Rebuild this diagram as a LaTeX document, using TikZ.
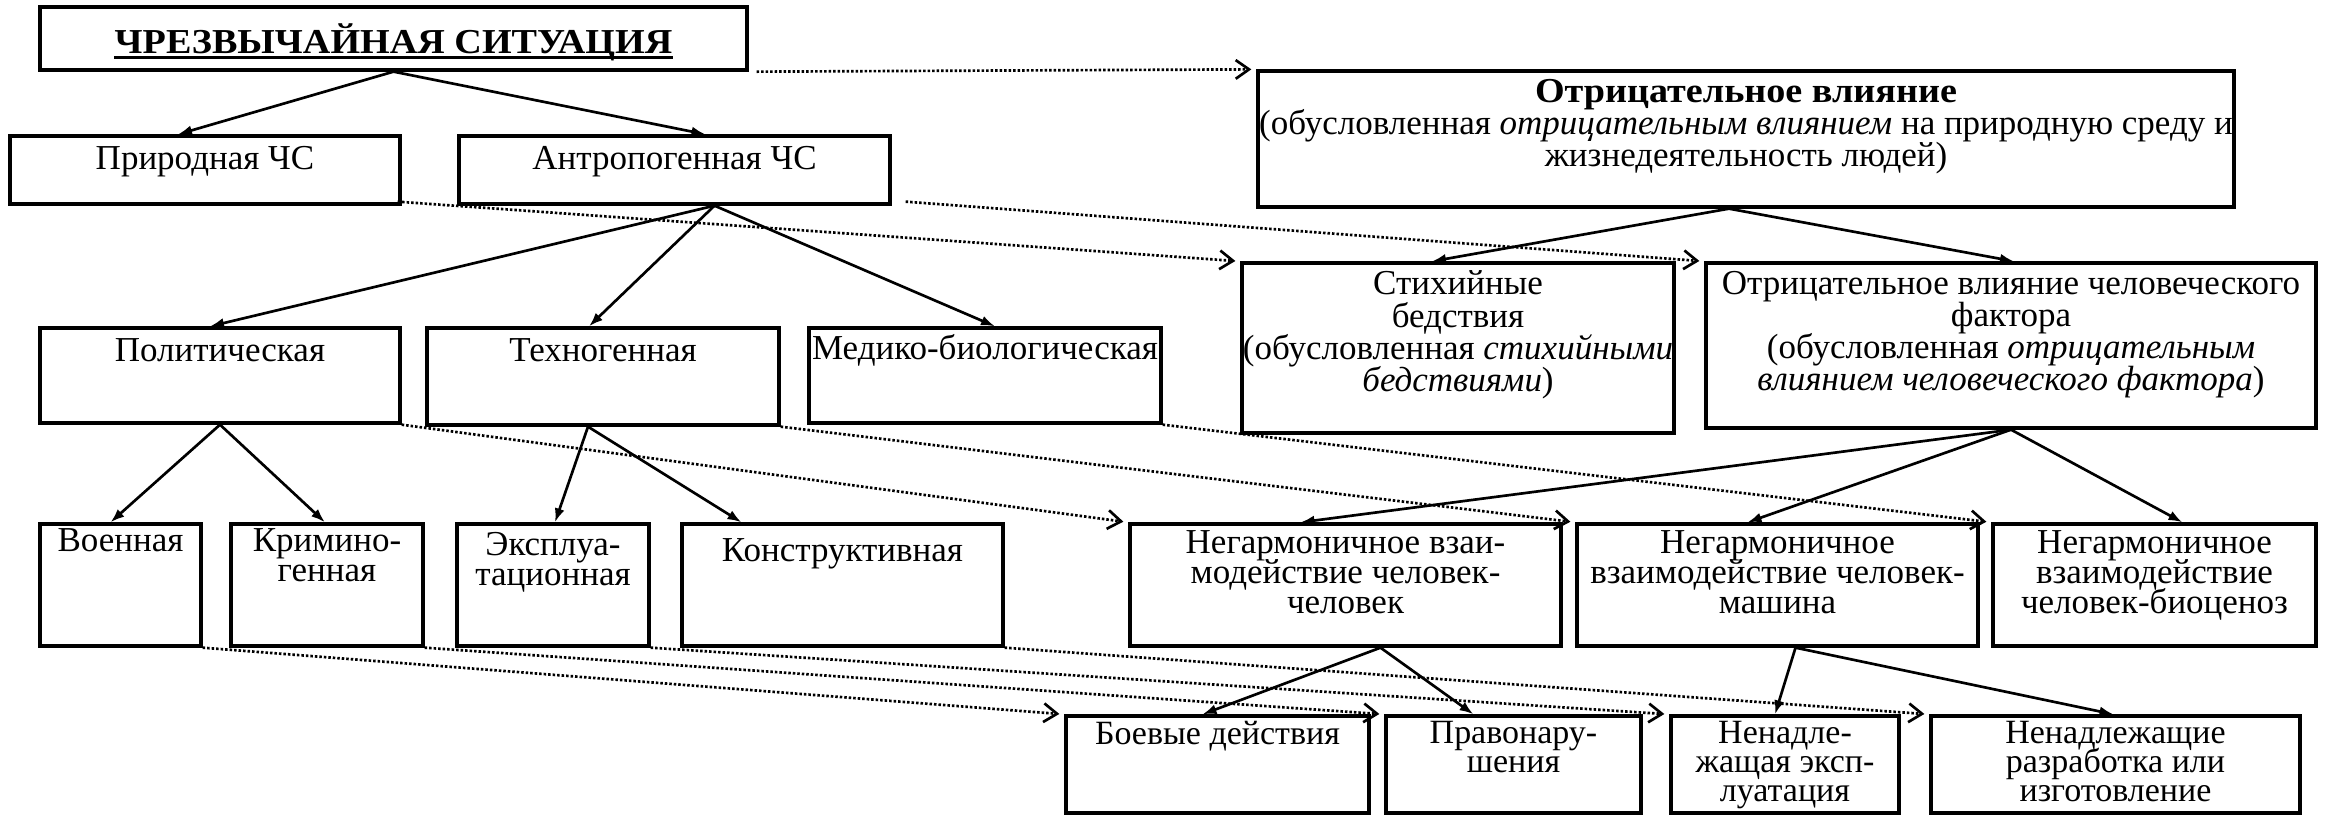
\documentclass[tikz,border=0pt]{standalone}
\usepackage{fontspec}
\usepackage{graphicx}
\setmainfont{Liberation Serif}
\usetikzlibrary{arrows.meta,calc,fit}
\lineskiplimit=-20pt
\begin{document}
\begin{tikzpicture}[x=0.3pt,y=-0.3pt,
  box/.style={draw, line width=1pt, inner sep=0pt},
  txt/.style={anchor=north, inner sep=0pt, align=center,
    font=\fontsize{10.5pt}{9pt}\selectfont},
  txtwide/.style={txt, font=\fontsize{10.5pt}{9.65pt}\selectfont},
  txtlow/.style={txt, font=\fontsize{10.2pt}{8.8pt}\selectfont},
  link/.style={line width=0.8pt, -{Latex[length=4.2pt,width=3pt]}},
  assoc/.style={line width=0.8pt, dash pattern=on 0.75pt off 0.6pt,
    -{Straight Barb[length=4pt,width=5.6pt,line width=0.8pt]}, shorten >=1.5pt}]
\useasboundingbox (0,0) rectangle (2328,815);

% ---- boxes ----
\node[box, fit={(40,7) (747,70)}]      (root) {};
\node[box, fit={(10,136) (400,204)}]   (prir) {};
\node[box, fit={(459,136) (890,204)}]  (antr) {};
\node[box, fit={(1258,71) (2234,207)}] (neg) {};
\node[box, fit={(40,328) (400,423)}]   (pol) {};
\node[box, fit={(427,328) (779,425)}]  (tech) {};
\node[box, fit={(809,328) (1161,423)}] (med) {};
\node[box, fit={(1242,263) (1674,433)}] (stix) {};
\node[box, fit={(1706,263) (2316,428)}] (chel) {};
\node[box, fit={(40,524) (201,646)}]   (voen) {};
\node[box, fit={(231,524) (423,646)}]  (krim) {};
\node[box, fit={(457,524) (649,646)}]  (expl) {};
\node[box, fit={(682,524) (1003,646)}] (kons) {};
\node[box, fit={(1130,524) (1561,646)}] (nch) {};
\node[box, fit={(1577,524) (1978,646)}] (nm) {};
\node[box, fit={(1993,524) (2316,646)}] (nb) {};
\node[box, fit={(1066,716) (1369,813)}] (boev) {};
\node[box, fit={(1386,716) (1641,813)}] (prav) {};
\node[box, fit={(1671,716) (1899,813)}] (nexp) {};
\node[box, fit={(1931,716) (2300,813)}] (nraz) {};

% ---- texts ----
\node[txt] (root-t) at ($(root.north)+(0,18)$) {\scalebox{1.09}[1]{\textbf{ЧРЕЗВЫЧАЙНАЯ СИТУАЦИЯ}}};
\draw[line width=0.9pt] ($(root-t.base west)+(0,4)$) -- ($(root-t.base east)+(0,4)$);
\node[txt] (prir-t) at ($(prir.north)+(0,11)$) {Природная ЧС};
\node[txt] (antr-t) at ($(antr.north)+(0,11)$) {Антропогенная ЧС};
\node[txtwide] (neg-t) at ($(neg.north)+(0,9)$) {\scalebox{1.09}[1]{\textbf{Отрицательное влияние}}\\(обусловленная \textit{отрицательным влиянием} на природную среду и\\жизнедеятельность людей)};
\node[txt] (pol-t) at ($(pol.north)+(0,12)$) {Политическая};
\node[txt] (tech-t) at ($(tech.north)+(0,12)$) {Техногенная};
\node[txt] (med-t) at ($(med.north)+(0,7)$) {Медико-биологическая};
\node[txtwide] (stix-t) at ($(stix.north)+(0,9)$) {Стихийные\\бедствия\\(обусловленная \textit{стихийными}\\\textit{бедствиями})};
\node[txtwide] (chel-t) at ($(chel.north)+(0,9)$) {Отрицательное влияние человеческого\\фактора\\(обусловленная \textit{отрицательным}\\\textit{влиянием человеческого фактора})};
\node[txt] (voen-t) at ($(voen.north)+(0,6)$) {Военная};
\node[txt] (krim-t) at ($(krim.north)+(0,6)$) {Кримино-\\генная};
\node[txt] (expl-t) at ($(expl.north)+(0,9)$) {Эксплуа-\\тационная};
\node[txt] (kons-t) at ($(kons.north)+(0,16)$) {Конструктивная};
\node[txt] (nch-t) at ($(nch.north)+(0,8)$) {Негармоничное взаи-\\модействие человек-\\человек};
\node[txt] (nm-t) at ($(nm.north)+(0,8)$) {Негармоничное\\взаимодействие человек-\\машина};
\node[txt] (nb-t) at ($(nb.north)+(0,8)$) {Негармоничное\\взаимодействие\\человек-биоценоз};
\node[txtlow] (boev-t) at ($(boev.north)+(0,6)$) {Боевые действия};
\node[txtlow] (prav-t) at ($(prav.north)+(0,6)$) {Правонару-\\шения};
\node[txtlow] (nexp-t) at ($(nexp.north)+(0,6)$) {Ненадле-\\жащая эксп-\\луатация};
\node[txtlow] (nraz-t) at ($(nraz.north)+(0,6)$) {Ненадлежащие\\разработка или\\изготовление};

% ---- hierarchy arrows ----
\draw[link] (root.south) -- ($(prir.north)+(-27,0)$);
\draw[link] (root.south) -- ($(antr.north)+(31,0)$);
\draw[link] ($(antr.south)+(40,0)$) -- ($(pol.north)+(-10,0)$);
\draw[link] ($(antr.south)+(40,0)$) -- ($(tech.north)+(-14,0)$);
\draw[link] ($(antr.south)+(40,0)$) -- ($(med.north)+(10,0)$);
\draw[link] ($(neg.south)+(-17,0)$) -- ($(stix.north)+(-26,0)$);
\draw[link] ($(neg.south)+(-17,0)$) -- ($(chel.north)+(3,0)$);
\draw[link] (pol.south) -- ($(voen.north)+(-10,0)$);
\draw[link] (pol.south) -- ($(krim.north)+(-2,0)$);
\draw[link] ($(tech.south)+(-15,0)$) -- ($(expl.north)+(2,0)$);
\draw[link] ($(tech.south)+(-15,0)$) -- ($(kons.north)+(-101,0)$);
\draw[link] (chel.south) -- ($(nch.north)+(-45,0)$);
\draw[link] (chel.south) -- ($(nm.north)+(-30,0)$);
\draw[link] (chel.south) -- ($(nb.north)+(28,0)$);
\draw[link] ($(nch.south)+(35,0)$) -- ($(boev.north)+(-15,0)$);
\draw[link] ($(nch.south)+(35,0)$) -- ($(prav.north)+(-40,0)$);
\draw[link] ($(nm.south)+(18,0)$) -- ($(nexp.north)+(-10,0)$);
\draw[link] ($(nm.south)+(18,0)$) -- ($(nraz.north)+(-2,0)$);

% ---- correspondence links (dotted) ----
\draw[assoc] ($(root.south east)+(8,0)$) -- (neg.north west);
\draw[assoc] ($(prir.south east)+(-4,-4)$) -- (stix.north west);
\draw[assoc] ($(antr.south east)+(14,-4)$) -- (chel.north west);
\draw[assoc] (pol.south east) -- (nch.north west);
\draw[assoc] (tech.south east) -- (nm.north west);
\draw[assoc] (med.south east) -- (nb.north west);
\draw[assoc] (voen.south east) -- (boev.north west);
\draw[assoc] (krim.south east) -- (prav.north west);
\draw[assoc] (expl.south east) -- (nexp.north west);
\draw[assoc] (kons.south east) -- (nraz.north west);
\end{tikzpicture}
\end{document}
